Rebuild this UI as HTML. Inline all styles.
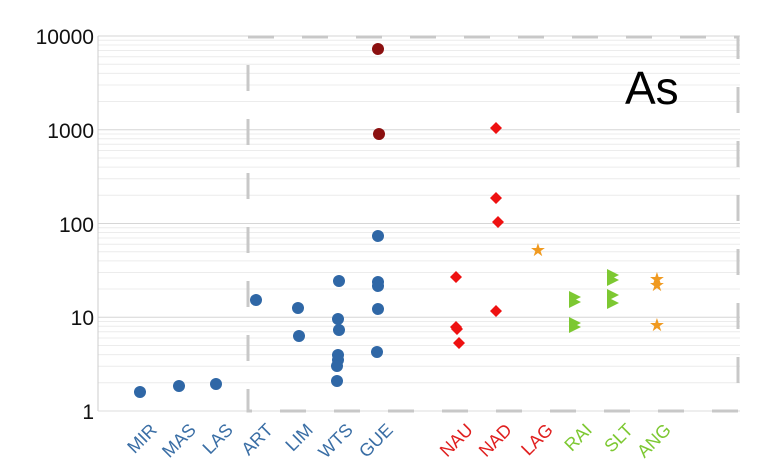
<!DOCTYPE html>
<html><head><meta charset="utf-8"><style>body{margin:0;background:#fff}svg{display:block}</style></head><body>
<svg width="762" height="472" xmlns="http://www.w3.org/2000/svg" font-family="Liberation Sans, sans-serif">
<defs>
<g id="dec" stroke="#ececec">
<line x1="98" x2="740" y1="-28.2" y2="-28.2"/><line x1="98" x2="740" y1="-44.7" y2="-44.7"/><line x1="98" x2="740" y1="-56.4" y2="-56.4"/><line x1="98" x2="740" y1="-65.5" y2="-65.5"/><line x1="98" x2="740" y1="-73" y2="-73"/><line x1="98" x2="740" y1="-79.2" y2="-79.2"/><line x1="98" x2="740" y1="-84.7" y2="-84.7"/><line x1="98" x2="740" y1="-89.5" y2="-89.5"/>
</g>
</defs>
<use href="#dec" transform="translate(0,411)"/><use href="#dec" transform="translate(0,317.25)"/><use href="#dec" transform="translate(0,223.5)"/><use href="#dec" transform="translate(0,129.75)"/>
<g stroke="#d6d6d6"><line x1="98" x2="740" y1="36" y2="36"/><line x1="98" x2="740" y1="129.75" y2="129.75"/><line x1="98" x2="740" y1="223.5" y2="223.5"/><line x1="98" x2="740" y1="317.25" y2="317.25"/></g>
<line x1="98" y1="36" x2="98" y2="411" stroke="#ccc"/>
<line x1="98" y1="411" x2="740" y2="411" stroke="#ddd"/>
<rect x="248" y="37" width="490" height="374" fill="none" stroke="#c8c8c8" stroke-width="3" stroke-dasharray="26,28"/>
<g font-size="21" fill="#111" text-anchor="end">
<text x="94" y="44">10000</text><text x="94" y="138">1000</text><text x="94" y="232">100</text><text x="94" y="325">10</text><text x="94" y="419">1</text>
</g>
<text x="625" y="104" font-size="46" fill="#000">As</text>
<g fill="#2f67a6">
<circle cx="140" cy="392" r="6"/><circle cx="179" cy="386" r="6"/><circle cx="216" cy="384" r="6"/><circle cx="256" cy="300" r="6"/>
<circle cx="298" cy="308" r="6"/><circle cx="299" cy="336" r="6"/>
<circle cx="339" cy="281" r="6"/><circle cx="338" cy="319" r="6"/><circle cx="339" cy="330" r="6"/><circle cx="338" cy="355" r="6"/><circle cx="338" cy="360" r="6"/><circle cx="337" cy="366" r="6"/><circle cx="337" cy="381" r="6"/>
<circle cx="378" cy="236" r="6"/><circle cx="378" cy="282" r="6"/><circle cx="378" cy="286" r="6"/><circle cx="378" cy="309" r="6"/><circle cx="377" cy="352" r="6"/>
</g>
<g fill="#8b1010"><circle cx="378" cy="49" r="6"/><circle cx="379" cy="134" r="6"/></g>
<g fill="#ee1111">
<path d="M456,271 l6,6 l-6,6 l-6,-6z M456,321 l6,6 l-6,6 l-6,-6z M459,337 l6,6 l-6,6 l-6,-6z M457,323 l6,6 l-6,6 l-6,-6z M496,122 l6,6 l-6,6 l-6,-6z M496,192 l6,6 l-6,6 l-6,-6z M498,216 l6,6 l-6,6 l-6,-6z M496,305 l6,6 l-6,6 l-6,-6z"/>
</g>
<g fill="#f09a20" font-size="18" text-anchor="middle">
<text x="538" y="256">★</text><text x="657" y="285">★</text><text x="657" y="291">★</text><text x="657" y="331">★</text>
</g>
<g fill="#7dc832">
<path d="M569,291 l12,6 l-12,6z M569,296 l12,6 l-12,6z M569,317 l12,6 l-12,6z M569,321 l12,6 l-12,6z M607,269 l12,6 l-12,6z M607,274 l12,6 l-12,6z M607,289 l12,6 l-12,6z M607,297 l12,6 l-12,6z"/>
</g>
<g font-size="18" text-anchor="end">
<g fill="#3a6ea5">
<text transform="translate(158,431) rotate(-45)">MIR</text><text transform="translate(197,431) rotate(-45)">MAS</text><text transform="translate(234,431) rotate(-45)">LAS</text><text transform="translate(274,431) rotate(-45)">ART</text><text transform="translate(314,431) rotate(-45)">LIM</text><text transform="translate(354,431) rotate(-45)">WTS</text><text transform="translate(394,431) rotate(-45)">GUE</text>
</g>
<g fill="#e02020"><text transform="translate(474,431) rotate(-45)">NAU</text><text transform="translate(513,431) rotate(-45)">NAD</text><text transform="translate(554,431) rotate(-45)">LAG</text></g>
<g fill="#7dc832"><text transform="translate(593,431) rotate(-45)">RAI</text><text transform="translate(634,431) rotate(-45)">SLT</text><text transform="translate(672,431) rotate(-45)">ANG</text></g>
</g>
</svg>
</body></html>
